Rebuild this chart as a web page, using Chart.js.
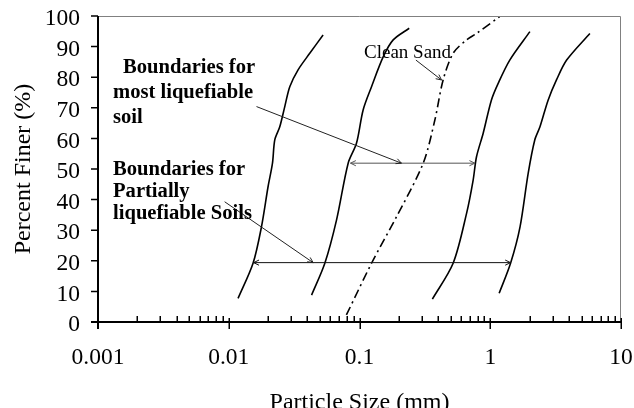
<!DOCTYPE html>
<html><head><meta charset="utf-8">
<script src="https://cdn.jsdelivr.net/npm/chart.js@4/dist/chart.umd.min.js"></script>
<style>html,body{margin:0;padding:0;background:#fff;}#wrap{width:634px;height:408px;}</style>
</head><body><div id="wrap"><canvas id="c" width="634" height="408"></canvas></div>
<script>
// ---- data ----
const xTickValues = [0.001,0.002,0.003,0.004,0.005,0.006,0.007,0.008,0.009,
  0.01,0.02,0.03,0.04,0.05,0.06,0.07,0.08,0.09,
  0.1,0.2,0.3,0.4,0.5,0.6,0.7,0.8,0.9,
  1,2,3,4,5,6,7,8,9,10];
const yTickValues = [0,10,20,30,40,50,60,70,80,90,100];

const curveFineBound = [[0.01178,7.7],[0.01534,19.2],[0.01779,31.1],[0.01998,44.2],[0.0216,51.9],[0.02249,59.5],[0.02456,63.8],[0.02682,70.4],[0.02929,76.9],[0.0339,82.4],[0.04165,87.8],[0.05266,93.8]];
const curveMostLiqLow = [[0.0430,8.8],[0.0543,19.2],[0.0667,33.3],[0.0819,51.9],[0.0948,58.4],[0.1066,69.3],[0.1236,76.9],[0.152,86.7],[0.181,92.2],[0.240,96.0]];
const curveCleanSand = [[0.0794,2.3],[0.1236,19.2],[0.192,34.4],[0.307,51.9],[0.377,66.0],[0.436,79.1],[0.520,87.8],[0.659,92.2],[0.785,94.3],[1.18,99.8]];
const curveMostLiqHigh = [[0.361,7.5],[0.520,19.2],[0.659,35.5],[0.740,46.4],[0.785,54.0],[0.883,61.7],[1.02,72.5],[1.15,78.0],[1.41,85.6],[2.01,94.9]];
const curvePartialHigh = [[1.17,9.4],[1.43,19.2],[1.69,31.1],[1.95,48.6],[2.19,59.5],[2.40,63.8],[2.77,72.5],[3.21,79.1],[3.84,85.6],[5.78,94.3]];

// annotation arrows (data coordinates)
const mostLiqRange = [[0.0853,51.9],[0.762,51.9]];
const mostLiqPointer = [[0.0163,70.4],[0.2093,51.9]];
const partialRange = [[0.0155,19.4],[1.43,19.4]];
const partialPointer = [[0.0093,39.3],[0.0442,19.4]];
const cleanSandPointer = [[0.27,85.6],[0.424,79.1]];

const mostLiqLabel = ["Boundaries for","most liquefiable","soil"];
const partialLabel = ["Boundaries for","Partially","liquefiable Soils"];
const cleanSandLabel = "Clean Sand";

const toPts = a => a.map(p => ({x:p[0], y:p[1]}));
const SERIF = "'Liberation Serif','Times New Roman',serif";

function arrowHead(ctx, x1, y1, x2, y2, size) {
  const ang = Math.atan2(y2 - y1, x2 - x1);
  ctx.beginPath();
  ctx.moveTo(x2 - size * Math.cos(ang - 0.45), y2 - size * Math.sin(ang - 0.45));
  ctx.lineTo(x2, y2);
  ctx.lineTo(x2 - size * Math.cos(ang + 0.45), y2 - size * Math.sin(ang + 0.45));
  ctx.stroke();
}

const decor = {
  id: 'decor',
  afterDraw(chart) {
    const ctx = chart.ctx, xs = chart.scales.x, ys = chart.scales.y, a = chart.chartArea;
    ctx.save();
    // frame
    ctx.strokeStyle = '#808080'; ctx.lineWidth = 1;
    ctx.beginPath();
    ctx.moveTo(a.left, a.top + 0.5); ctx.lineTo(a.right - 0.5, a.top + 0.5); ctx.lineTo(a.right - 0.5, a.bottom);
    ctx.stroke();
    // axes
    ctx.strokeStyle = '#000'; ctx.lineWidth = 2;
    ctx.beginPath();
    ctx.moveTo(a.left, a.top); ctx.lineTo(a.left, a.bottom + 7);
    ctx.moveTo(a.left - 7, a.bottom); ctx.lineTo(a.right, a.bottom);
    ctx.stroke();
    ctx.lineWidth = 1.5;
    // y ticks
    ctx.beginPath();
    yTickValues.forEach(v => { const y = ys.getPixelForValue(v); ctx.moveTo(a.left - 7, y); ctx.lineTo(a.left, y); });
    ctx.stroke();
    // x ticks
    ctx.beginPath();
    xTickValues.forEach(v => {
      const x = Math.round(xs.getPixelForValue(v)) + 0.25;
      const lg = Math.log10(v), major = Math.abs(lg - Math.round(lg)) < 1e-9;
      if (major) { ctx.moveTo(x, a.bottom - 4); ctx.lineTo(x, a.bottom + 7); }
      else { ctx.moveTo(x, a.bottom - 6); ctx.lineTo(x, a.bottom); }
    });
    ctx.stroke();

    // arrows
    const P = p => [xs.getPixelForValue(p[0]), ys.getPixelForValue(p[1])];
    function seg(pair, color, heads) {
      const [x1, y1] = P(pair[0]), [x2, y2] = P(pair[1]);
      ctx.strokeStyle = color; ctx.lineWidth = 1;
      ctx.beginPath(); ctx.moveTo(x1, y1); ctx.lineTo(x2, y2); ctx.stroke();
      arrowHead(ctx, x1, y1, x2, y2, 6);
      if (heads === 2) arrowHead(ctx, x2, y2, x1, y1, 6);
    }
    seg(mostLiqRange, '#555', 2);
    seg(mostLiqPointer, '#222', 1);
    seg(partialRange, '#111', 2);
    seg(partialPointer, '#222', 1);
    seg(cleanSandPointer, '#222', 1);

    // texts
    ctx.fillStyle = '#000'; ctx.textAlign = 'left'; ctx.textBaseline = 'alphabetic';
    ctx.font = "bold 20.6px " + SERIF;
    ctx.fillText(mostLiqLabel[0], 123, 73);
    ctx.fillText(mostLiqLabel[1], 113, 98);
    ctx.fillText(mostLiqLabel[2], 113, 123);
    ctx.fillText(partialLabel[0], 113, 175);
    ctx.fillText(partialLabel[1], 113, 197);
    ctx.fillText(partialLabel[2], 113, 219);
    ctx.font = "19px " + SERIF;
    ctx.fillText(cleanSandLabel, 364, 58);
    ctx.restore();
  }
};

const solid = (data) => ({data: toPts(data), showLine: true, borderColor: '#000', borderWidth: 1.6, pointRadius: 0, tension: 0.3, fill: false});

new Chart(document.getElementById('c'), {
  type: 'scatter',
  data: { datasets: [
    solid(curveFineBound),
    solid(curveMostLiqLow),
    Object.assign(solid(curveCleanSand), {borderDash: [9,4,2,4]}),
    solid(curveMostLiqHigh),
    solid(curvePartialHigh)
  ]},
  options: {
    responsive: false, animation: false, devicePixelRatio: 1,
    layout: { padding: { top: 16, right: 13, left: 0, bottom: 0 } },
    plugins: { legend: { display: false }, tooltip: { enabled: false } },
    scales: {
      x: {
        type: 'logarithmic', min: 0.001, max: 10,
        afterFit: s => { s.height = 86; s.paddingLeft = 0; s.paddingRight = 0; s.paddingTop = 0; s.paddingBottom = 0; },
        afterBuildTicks: s => { s.ticks = xTickValues.map(v => ({value: v})); },
        border: { display: false },
        grid: { display: false, drawTicks: false },
        ticks: {
          autoSkip: false, maxRotation: 0, minRotation: 0, padding: 22, color: '#000',
          font: { family: SERIF, size: 23.5 },
          callback: v => { const lg = Math.log10(v); return Math.abs(lg - Math.round(lg)) < 1e-9 ? String(v) : ''; }
        },
        title: { display: true, text: 'Particle Size (mm)', color: '#000', font: { family: SERIF, size: 24 }, padding: { top: 0, bottom: -9 } }
      },
      y: {
        min: 0, max: 100,
        afterFit: s => { s.width = 98; s.paddingLeft = 0; s.paddingRight = 0; s.paddingTop = 0; s.paddingBottom = 0; },
        afterBuildTicks: s => { s.ticks = yTickValues.map(v => ({value: v})); },
        border: { display: false },
        grid: { display: false, drawTicks: false },
        ticks: { autoSkip: false, padding: 18, color: '#000', labelOffset: 3, font: { family: SERIF, size: 23.5 } },
        title: { display: true, text: 'Percent Finer (%)', color: '#000', font: { family: SERIF, size: 24 }, padding: { top: 9, bottom: 0 } }
      }
    }
  },
  plugins: [decor]
});
</script></body></html>
